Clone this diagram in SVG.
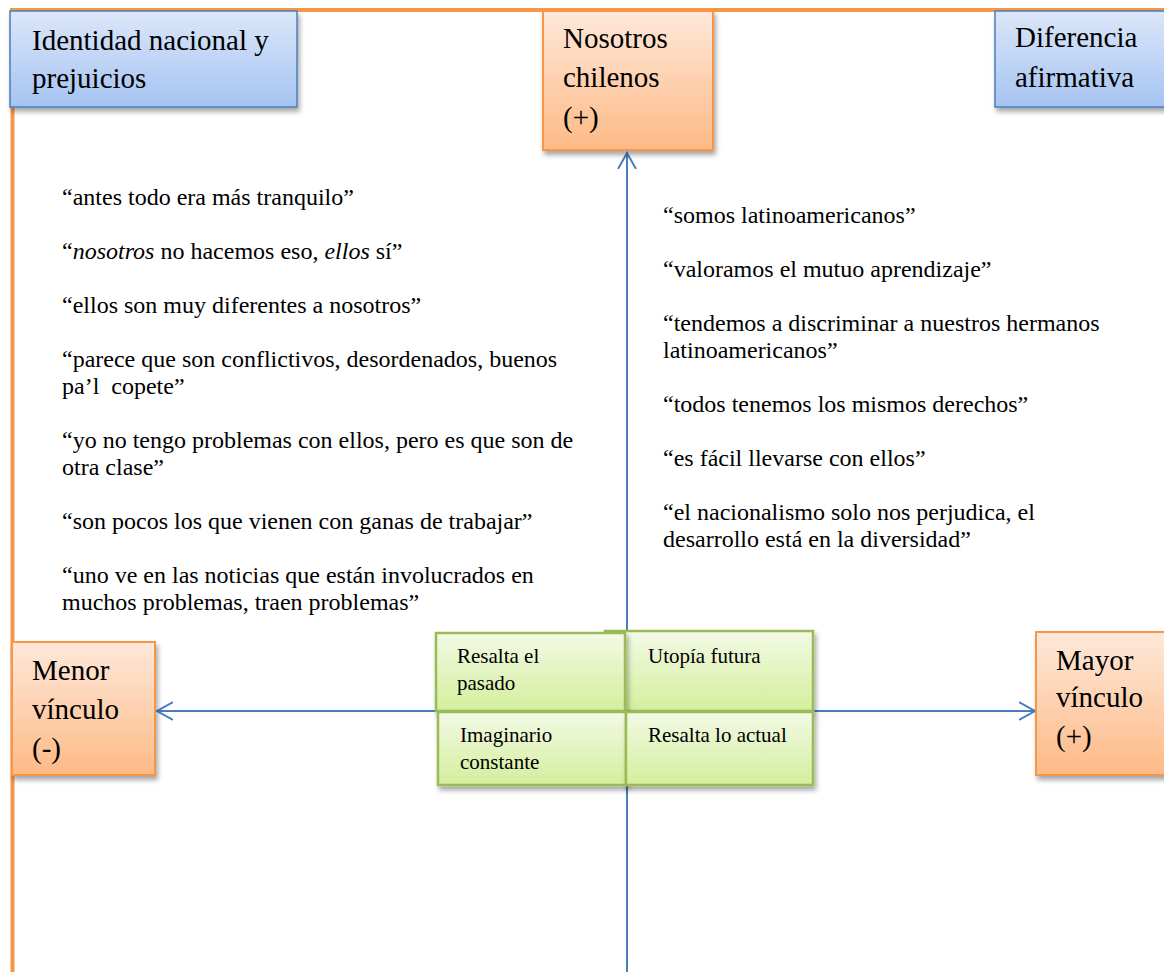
<svg xmlns="http://www.w3.org/2000/svg" width="1164" height="972" viewBox="0 0 1164 972">
<style>
  text { font-family: "Liberation Serif", "Times New Roman", serif; fill: #000; }
  .title { font-size: 29px; }
  .quote { font-size: 24px; }
  .green { font-size: 21px; }
  .blue { stroke: #4A7EBB; stroke-width: 1.5; fill: url(#gBlue); }
  .orange { stroke: #F79646; stroke-width: 2; fill: url(#gOrange); }
  .greenbox { stroke: #9BBB59; stroke-width: 2.5; fill: url(#gGreen); }
  .conn { stroke: #4A7EBB; stroke-width: 2; fill: none; }
  .frame { stroke: #F79646; stroke-width: 4; fill: none; }
</style>
<defs>
  <linearGradient id="gBlue" x1="0" y1="0" x2="0" y2="1">
    <stop offset="0" stop-color="#DCE7F9"/>
    <stop offset="1" stop-color="#A5C3F2"/>
  </linearGradient>
  <linearGradient id="gOrange" x1="0" y1="0" x2="0" y2="1">
    <stop offset="0" stop-color="#FEE8DA"/>
    <stop offset="1" stop-color="#FDBA86"/>
  </linearGradient>
  <linearGradient id="gGreen" x1="0" y1="0" x2="0" y2="1">
    <stop offset="0" stop-color="#F3FAE6"/>
    <stop offset="1" stop-color="#D4EE9C"/>
  </linearGradient>
  <filter id="shadow" x="-10%" y="-10%" width="130%" height="140%">
    <feDropShadow dx="2" dy="4" stdDeviation="2.5" flood-color="#000" flood-opacity="0.35"/>
  </filter>
  <marker id="arrow" markerUnits="userSpaceOnUse" markerWidth="20" markerHeight="22" refX="16" refY="10" orient="auto">
    <path d="M0,1 L16,10 L0,19" fill="none" stroke="#4A7EBB" stroke-width="2"/>
  </marker>
</defs>

<g id="frame">
  <line class="frame" x1="10" y1="10" x2="1164" y2="10"/>
  <line class="frame" x1="12.5" y1="8" x2="12.5" y2="972"/>
</g>

<g id="connectors">
  <line class="conn" x1="627" y1="972" x2="627" y2="153" marker-end="url(#arrow)"/>
  <line class="conn" x1="627" y1="711" x2="157" y2="711" marker-end="url(#arrow)"/>
  <line class="conn" x1="627" y1="711" x2="1035" y2="711" marker-end="url(#arrow)"/>
</g>

<g id="identidad">
  <rect class="blue" x="10" y="11" width="287" height="96" filter="url(#shadow)"/>
  <text class="title" x="32" y="50">Identidad nacional y</text>
  <text class="title" x="32" y="88">prejuicios</text>
</g>

<g id="nosotros">
  <rect class="orange" x="543" y="11" width="170" height="139" filter="url(#shadow)"/>
  <text class="title" x="563" y="48">Nosotros</text>
  <text class="title" x="563" y="87">chilenos</text>
  <text class="title" x="563" y="127">(+)</text>
</g>

<g id="diferencia">
  <rect class="blue" x="995" y="11" width="180" height="96" filter="url(#shadow)"/>
  <text class="title" x="1015" y="47">Diferencia</text>
  <text class="title" x="1015" y="87">afirmativa</text>
</g>

<g id="menor">
  <rect class="orange" x="12" y="642" width="143" height="133" filter="url(#shadow)"/>
  <text class="title" x="32" y="680">Menor</text>
  <text class="title" x="32" y="719">vínculo</text>
  <text class="title" x="32" y="758">(-)</text>
</g>

<g id="mayor">
  <rect class="orange" x="1036" y="632" width="140" height="143" filter="url(#shadow)"/>
  <text class="title" x="1056" y="670">Mayor</text>
  <text class="title" x="1056" y="707">vínculo</text>
  <text class="title" x="1056" y="746">(+)</text>
</g>

<g id="quotes-left">
  <text class="quote" x="62" y="205">“antes todo era más tranquilo”</text>
  <text class="quote" x="62" y="259">“<tspan font-style="italic">nosotros</tspan> no hacemos eso, <tspan font-style="italic">ellos</tspan> sí”</text>
  <text class="quote" x="62" y="313">“ellos son muy diferentes a nosotros”</text>
  <text class="quote" x="62" y="367">“parece que son conflictivos, desordenados, buenos</text>
  <text class="quote" x="62" y="394">pa’l&#160; copete”</text>
  <text class="quote" x="62" y="448">“yo no tengo problemas con ellos, pero es que son de</text>
  <text class="quote" x="62" y="475">otra clase”</text>
  <text class="quote" x="62" y="529">“son pocos los que vienen con ganas de trabajar”</text>
  <text class="quote" x="62" y="583">“uno ve en las noticias que están involucrados en</text>
  <text class="quote" x="62" y="610">muchos problemas, traen problemas”</text>
</g>

<g id="quotes-right">
  <text class="quote" x="663" y="223">“somos latinoamericanos”</text>
  <text class="quote" x="663" y="277">“valoramos el mutuo aprendizaje”</text>
  <text class="quote" x="663" y="331">“tendemos a discriminar a nuestros hermanos</text>
  <text class="quote" x="663" y="358">latinoamericanos”</text>
  <text class="quote" x="663" y="412">“todos tenemos los mismos derechos”</text>
  <text class="quote" x="663" y="466">“es fácil llevarse con ellos”</text>
  <text class="quote" x="663" y="520">“el nacionalismo solo nos perjudica, el</text>
  <text class="quote" x="663" y="547">desarrollo está en la diversidad”</text>
</g>

<g id="utopia">
  <rect class="greenbox" x="605" y="631" width="208" height="80" filter="url(#shadow)"/>
  <text class="green" x="648" y="663">Utopía futura</text>
</g>

<g id="resalta-pasado">
  <rect class="greenbox" x="436" y="633" width="189" height="78" filter="url(#shadow)"/>
  <text class="green" x="457" y="663">Resalta el</text>
  <text class="green" x="457" y="690">pasado</text>
</g>

<g id="imaginario">
  <rect class="greenbox" x="438" y="712" width="188" height="73" filter="url(#shadow)"/>
  <text class="green" x="460" y="742">Imaginario</text>
  <text class="green" x="460" y="769">constante</text>
</g>

<g id="resalta-actual">
  <rect class="greenbox" x="626" y="712" width="187" height="73" filter="url(#shadow)"/>
  <text class="green" x="648" y="742">Resalta lo actual</text>
</g>
</svg>
